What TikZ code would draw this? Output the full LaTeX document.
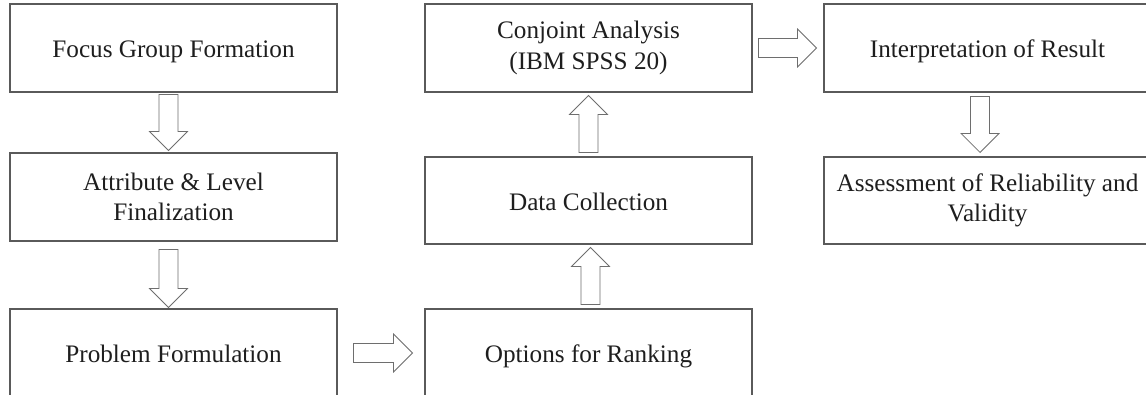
\documentclass[tikz,border=0pt]{standalone}
\usepackage{fontspec}
\setmainfont{Liberation Serif}
\usetikzlibrary{calc}
\definecolor{boxline}{RGB}{90,90,90}
\definecolor{arrline}{RGB}{110,110,110}
\definecolor{txt}{RGB}{30,30,30}
\tikzset{
  stepbox/.style={draw=boxline, line width=1.1pt, minimum width=327pt, minimum height=88pt,
    inner sep=0pt, align=center, text=txt, font=\fontsize{25.2}{30.5}\selectfont},
  oneline/.style={text height=21pt, text depth=1.3pt},
  fat/.style={draw=arrline, line width=0.8pt, line join=miter,
    to path={let \p1=(\tikztostart), \p2=(\tikztotarget),
      \n1={atan2(\y2-\y1,\x2-\x1)}, \n2={veclen(\x2-\x1,\y2-\y1)} in
      (\p1) ++({\n1+90}:9.5pt) -- ++({\n1}:{\n2-19pt}) -- ++({\n1+90}:9.5pt) -- (\p2)
      -- ($(\p2)+({\n1+180}:19pt)+({\n1-90}:19pt)$) -- ++({\n1+90}:9.5pt)
      -- ++({\n1+180}:{\n2-19pt}) -- cycle}}
}
\begin{document}
\begin{tikzpicture}[x=1pt,y=1pt]
\clip (0,0) rectangle (1146,395);
\fill[white] (0,0) rectangle (1146,395);
\node[stepbox, oneline] (fg)  at (173.5,347) {Focus Group Formation};
\node[stepbox] (alf) at (173.5,198) {Attribute \& Level\\Finalization};
\node[stepbox, oneline] (pf)  at (173.5,42)  {Problem Formulation};
\node[stepbox, oneline] (ofr) at (588.5,42)  {Options for Ranking};
\node[stepbox, oneline, minimum height=87pt] (dc)  at (588.5,194.5) {Data Collection};
\node[stepbox] (ca)  at (588.5,347) {Conjoint Analysis\\(IBM SPSS 20)};
\node[stepbox, oneline] (ir)  at (987.5,347) {Interpretation of Result};
\node[stepbox, minimum height=87pt] (arv) at (987.5,194.5) {Assessment of Reliability and\\Validity};
\draw[fat] ($(fg.south)+(-5,-2)$) to ($(alf.north)+(-5,2)$);
\draw[fat] ($(alf.south)+(-5,-8)$) to ($(pf.north)+(-5,1)$);
\draw[fat] ($(pf.east)+(16,0)$) to ($(ofr.west)+(-12,0)$);
\draw[fat] ($(ofr.north)+(2,4)$) to ($(dc.south)+(2,-3)$);
\draw[fat] ($(dc.north)+(0,4)$) to ($(ca.south)+(0,-3)$);
\draw[fat] ($(ca.east)+(6,0)$) to ($(ir.west)+(-7,0)$);
\draw[fat] ($(ir.south)+(-7.5,-4)$) to ($(arv.north)+(-7.5,4)$);
\end{tikzpicture}
\end{document}
